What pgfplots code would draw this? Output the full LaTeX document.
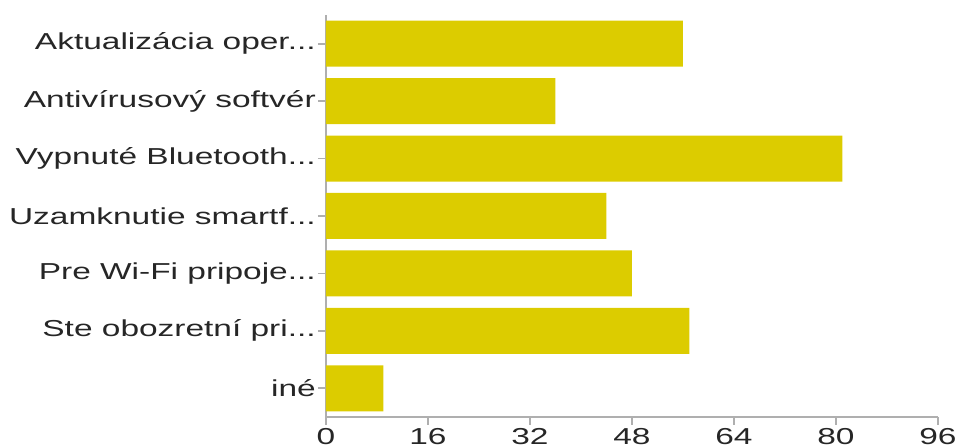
\documentclass[border=0pt]{standalone}
\usepackage{pgfplots}
\pgfplotsset{compat=1.18}
\usepackage{fontspec}
\setmainfont{Liberation Sans}[FakeStretch=1.45]
\definecolor{barc}{RGB}{220,204,0}
\definecolor{axc}{RGB}{175,175,175}
\newcommand\dd{...}
\begin{document}
\begin{tikzpicture}
\begin{axis}[at={(0,0)}, anchor=south west, scale only axis,
 width=459pt, height=301.5pt,
 xbar, bar width=34.5pt,
 xmin=0, xmax=96, ymin=-0.5, ymax=6.5,
 xtick={0,16,...,96}, ytick={0,...,6},
 yticklabels={iné, Ste obozretní pri\dd, Pre Wi-Fi pripoje\dd, Uzamknutie smartf\dd, Vypnuté Bluetooth\dd, Antivírusový softvér, Aktualizácia oper\dd},
 axis x line*=bottom, axis y line*=left,
 axis line style={axc, line width=1.3pt, -},
 tick style={axc, line width=1.2pt}, tick align=outside, major tick length=6pt,
 ticklabel style={font=\fontsize{17.3}{18}\selectfont, text=black!85},
 yticklabel style={inner sep=1.5pt},
 xticklabel style={inner sep=2pt},
 /pgf/number format/assume math mode=true,
]
\addplot[fill=barc, draw=none] coordinates {(9,0) (57,1) (48,2) (44,3) (81,4) (36,5) (56,6)};
\end{axis}
\pgfresetboundingbox
\useasboundingbox (-244.5pt,-21.75pt) rectangle (474pt,312.75pt);
\end{tikzpicture}
\end{document}
